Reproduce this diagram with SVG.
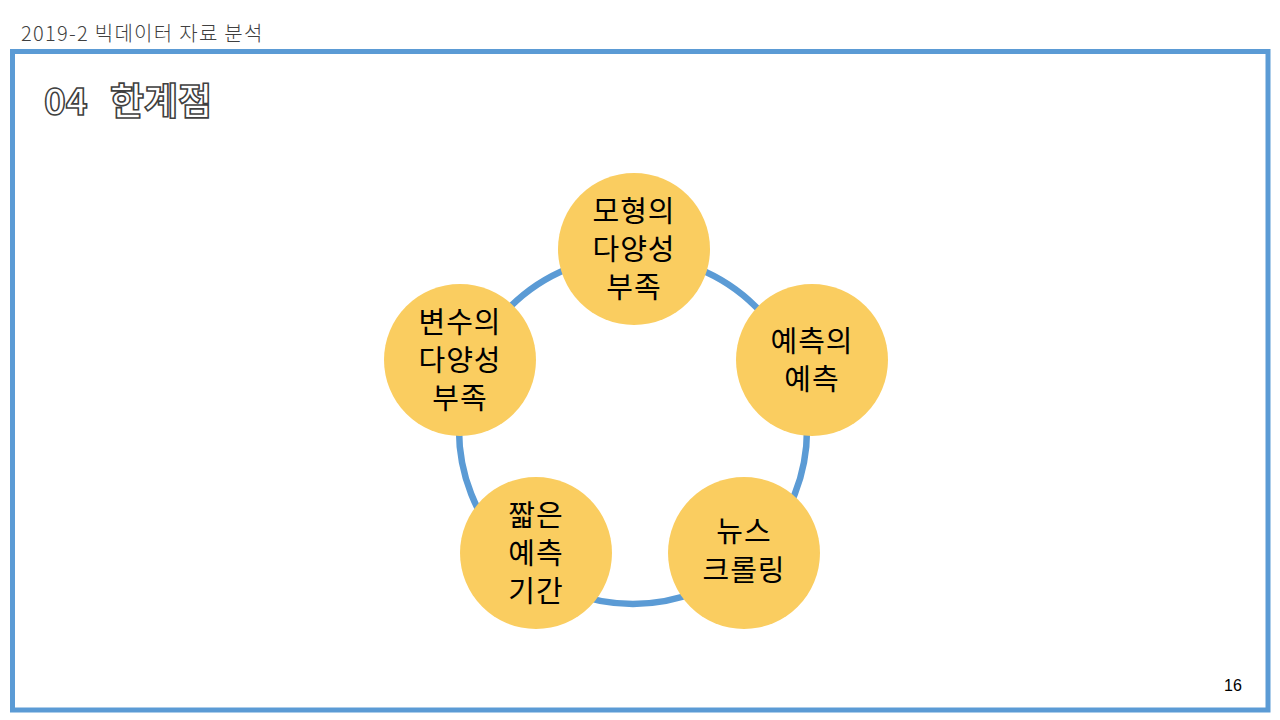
<svg xmlns="http://www.w3.org/2000/svg" width="1280" height="720" viewBox="0 0 1280 720">
<style>
.hdr{font-family:"Noto Sans CJK KR","Noto Sans",sans-serif;font-weight:300;font-size:20px;letter-spacing:1.3px;fill:#404040}
.ttl{font-family:"Noto Sans CJK KR","Noto Sans",sans-serif;font-weight:700;font-size:37px;fill:#ffffff;stroke:#404040;stroke-width:1.6px}
.node circle{fill:#FACD60}
.node text{font-family:"Noto Sans CJK KR","Noto Sans",sans-serif;font-size:29px;letter-spacing:1px;fill:#000;text-anchor:middle}
.pg{font-family:"Liberation Sans","Noto Sans",sans-serif;font-size:16px;fill:#000}
</style>
<rect width="1280" height="720" fill="#ffffff"/>
<text class="hdr" x="21" y="41">2019-2 빅데이터 자료 분석</text>
<rect x="12.5" y="51.5" width="1255.5" height="658.5" fill="none" stroke="#5B9BD5" stroke-width="5"/>
<text class="ttl" x="44" y="115">04<tspan x="110">한계점</tspan></text>
<g id="connectors">
<circle cx="633" cy="430" r="174" fill="none" stroke="#5B9BD5" stroke-width="6.5"/>
</g>
<g id="node-top" class="node">
<circle cx="634" cy="249" r="76"/>
<text x="634" y="222">모형의</text>
<text x="634" y="260">다양성</text>
<text x="634" y="298">부족</text>
</g>
<g id="node-right" class="node">
<circle cx="812" cy="360" r="76"/>
<text x="812" y="352">예측의</text>
<text x="812" y="390">예측</text>
</g>
<g id="node-bottom-right" class="node">
<circle cx="744" cy="553" r="76"/>
<text x="744" y="542">뉴스</text>
<text x="744" y="581">크롤링</text>
</g>
<g id="node-bottom-left" class="node">
<circle cx="536" cy="553" r="76"/>
<text x="536" y="526">짧은</text>
<text x="536" y="564">예측</text>
<text x="536" y="602">기간</text>
</g>
<g id="node-left" class="node">
<circle cx="460" cy="360" r="76"/>
<text x="460" y="333">변수의</text>
<text x="460" y="371">다양성</text>
<text x="460" y="409">부족</text>
</g>
<text class="pg" x="1224" y="691">16</text>
</svg>
